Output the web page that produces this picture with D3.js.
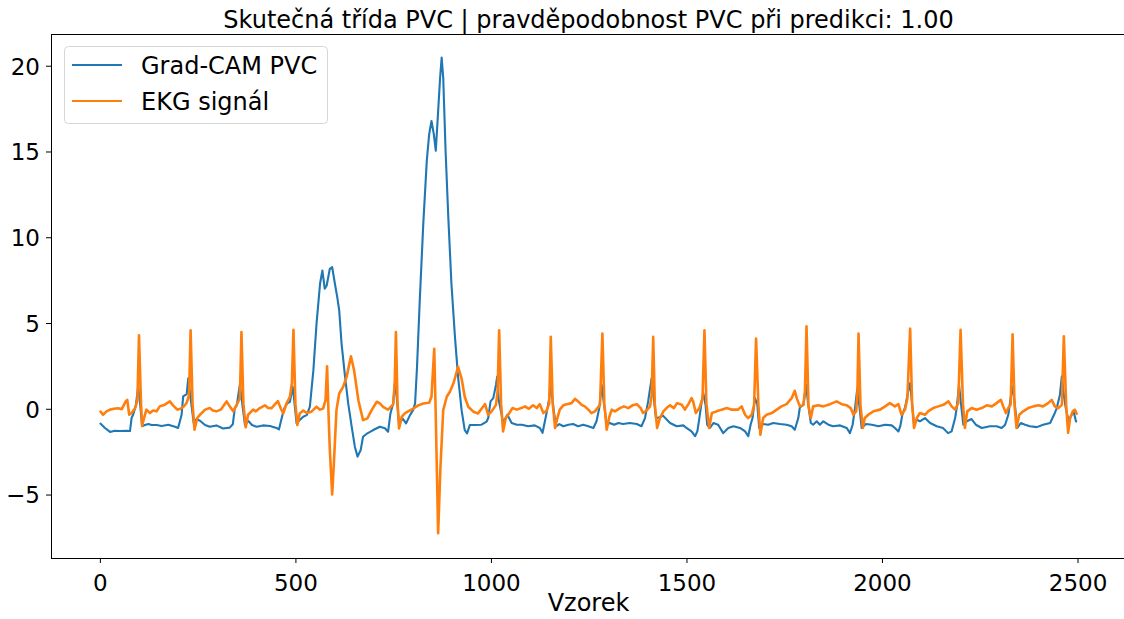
<!DOCTYPE html>
<html>
<head>
<meta charset="utf-8">
<script src="https://cdn.jsdelivr.net/npm/d3@7"></script>
<style>
  body { margin: 0; background: #fff; }
  svg { display: block; font-family: "DejaVu Sans", sans-serif; }
</style>
</head>
<body>
<div class="chart"></div>
<script>
// values: [sample, value]
var gradcam = [[0,-0.83],[13,-1.12],[26,-1.35],[38,-1.28],[51,-1.3],[68,-1.28],[77,-1.3],[81,-0.54],[85,-0.35],[92,0.2],[98,1.3],[102,0.5],[108,-1.02],[115,-0.95],[124,-0.89],[132,-0.95],[145,-0.95],[158,-1.0],[175,-0.93],[192,-1.05],[200,-1.12],[209,-0.35],[213,0.72],[222,0.85],[226,1.78],[231,0.8],[240,-0.83],[247,-0.6],[256,-0.7],[269,-0.95],[281,-1.05],[298,-0.97],[315,-1.15],[332,-1.1],[340,-0.9],[345,0.04],[350,0.2],[358,1.4],[363,0.5],[371,-0.95],[379,-0.7],[389,-0.95],[401,-1.05],[417,-0.97],[435,-1.0],[452,-1.12],[458,-1.2],[465,-0.54],[471,0.0],[479,0.31],[486,0.4],[493,1.28],[496,0.7],[503,-0.85],[511,-0.66],[520,-0.46],[529,-0.37],[537,0.12],[546,2.25],[554,4.96],[563,7.29],[569,8.06],[575,7.0],[580,7.19],[588,8.16],[594,8.26],[601,7.29],[607,6.51],[612,5.74],[618,3.8],[627,1.86],[635,0.31],[644,-1.05],[652,-2.21],[659,-2.79],[667,-2.4],[673,-1.63],[684,-1.43],[699,-1.24],[716,-1.05],[729,-1.14],[737,-1.34],[743,-0.27],[750,0.31],[754,1.47],[759,0.7],[765,-0.95],[774,-0.56],[783,-0.85],[793,-0.37],[801,-0.08],[806,0.31],[811,2.44],[818,6.32],[827,10.78],[836,14.47],[842,16.0],[848,16.78],[854,16.0],[859,15.04],[864,16.97],[870,19.3],[874,20.47],[878,19.3],[884,15.04],[891,11.16],[899,7.29],[908,4.19],[916,1.86],[925,-0.08],[933,-1.24],[939,-1.43],[946,-0.95],[959,-0.95],[976,-0.93],[989,-0.75],[993,-0.54],[999,0.43],[1006,0.62],[1013,1.4],[1016,1.88],[1020,0.5],[1027,-0.3],[1031,-0.83],[1042,-0.35],[1053,-0.83],[1066,-0.93],[1079,-0.93],[1095,-1.02],[1112,-0.97],[1125,-1.12],[1132,-1.4],[1138,-0.73],[1144,-0.05],[1149,0.62],[1153,1.4],[1159,0.2],[1166,-1.02],[1175,-0.89],[1185,-1.02],[1198,-0.93],[1210,-0.89],[1223,-1.02],[1236,-0.93],[1249,-1.02],[1262,-1.12],[1270,-0.73],[1277,0.04],[1283,1.4],[1289,0.3],[1296,-0.93],[1304,-0.83],[1315,-0.93],[1326,-0.83],[1338,-0.89],[1355,-0.83],[1373,-0.89],[1385,-1.02],[1394,-0.54],[1402,0.43],[1411,1.78],[1417,0.5],[1422,-0.54],[1432,-0.5],[1440,-0.4],[1458,-0.83],[1475,-1.02],[1492,-0.97],[1500,-1.12],[1513,-1.32],[1522,-1.6],[1528,-1.3],[1533,-0.54],[1539,0.43],[1543,0.92],[1549,0.2],[1553,-0.93],[1560,-1.12],[1569,-0.83],[1581,-0.93],[1594,-1.42],[1607,-1.12],[1620,-1.02],[1637,-1.12],[1650,-1.32],[1658,-1.6],[1664,-0.93],[1669,-0.54],[1675,0.62],[1681,0.3],[1686,-1.12],[1696,-0.89],[1709,-0.93],[1722,-0.83],[1739,-0.89],[1756,-0.93],[1769,-1.02],[1777,-1.22],[1786,-0.54],[1790,0.08],[1799,0.23],[1806,1.4],[1811,0.3],[1818,-0.83],[1824,-0.93],[1833,-0.73],[1841,-0.93],[1850,-0.73],[1863,-0.93],[1875,-1.02],[1893,-0.97],[1910,-1.12],[1918,-1.42],[1925,-0.93],[1931,0.04],[1937,1.2],[1942,0.2],[1948,-1.12],[1959,-0.89],[1974,-0.93],[1991,-1.02],[2008,-0.93],[2025,-0.97],[2033,-1.12],[2042,-1.32],[2047,-1.0],[2052,-0.35],[2059,0.08],[2067,1.0],[2072,1.5],[2077,0.3],[2082,-0.93],[2089,-0.64],[2097,-0.73],[2110,-0.54],[2123,-0.83],[2140,-1.02],[2156,-1.12],[2169,-1.42],[2178,-1.32],[2187,-0.54],[2191,0.04],[2197,1.4],[2202,0.3],[2208,-0.93],[2217,-0.73],[2229,-0.6],[2240,-0.93],[2255,-1.12],[2276,-1.02],[2293,-1.02],[2306,-1.12],[2315,-0.93],[2323,-0.35],[2329,0.62],[2334,1.3],[2340,0.2],[2346,-1.12],[2355,-0.83],[2366,-0.93],[2378,-1.02],[2396,-1.07],[2412,-0.93],[2430,-0.83],[2440,-0.35],[2447,0.04],[2455,0.82],[2460,1.9],[2465,0.8],[2470,0.04],[2476,-0.6],[2481,-0.54],[2490,-0.15],[2496,-0.73],[2499,-0.75]];

var ekg = [[0,-0.11],[8,-0.35],[17,-0.15],[26,-0.05],[36,0.0],[46,0.03],[56,-0.02],[66,0.43],[70,0.52],[75,-0.35],[81,-0.25],[90,0.03],[96,0.5],[100,4.28],[105,0.4],[108,-1.0],[113,-0.54],[119,-0.05],[128,-0.25],[136,-0.1],[145,-0.15],[153,0.14],[166,0.24],[179,0.43],[187,0.2],[198,-0.05],[206,0.0],[215,0.15],[222,0.35],[228,0.8],[232,4.57],[237,0.3],[242,-1.22],[249,-0.54],[256,-0.35],[269,-0.05],[281,0.04],[289,-0.1],[298,-0.15],[309,-0.05],[324,0.43],[332,0.14],[341,-0.15],[350,0.24],[358,0.6],[362,4.48],[367,0.3],[373,-1.08],[379,-0.35],[392,-0.05],[399,-0.15],[409,0.04],[422,0.2],[430,0.05],[439,0.04],[455,0.45],[463,0.0],[469,-0.27],[477,0.3],[486,0.7],[491,1.5],[495,4.61],[500,0.3],[505,-0.95],[511,-0.27],[520,-0.1],[529,-0.25],[541,-0.17],[554,0.12],[563,-0.05],[571,0.02],[577,0.5],[581,2.47],[585,-0.5],[588,-2.4],[594,-4.99],[598,-3.35],[605,-0.08],[612,0.89],[622,1.28],[631,1.86],[642,3.06],[650,2.25],[661,0.5],[673,-0.66],[684,-0.56],[695,-0.08],[708,0.41],[716,0.31],[725,0.1],[737,-0.05],[750,0.25],[754,1.5],[757,4.48],[761,0.5],[765,-1.14],[772,-0.46],[780,-0.27],[788,-0.15],[801,0.0],[814,0.2],[827,0.31],[842,0.35],[848,0.7],[855,3.5],[859,-0.5],[865,-7.25],[871,-3.35],[878,-0.08],[887,0.7],[895,0.99],[904,1.47],[916,2.44],[925,1.76],[933,0.7],[942,0.12],[955,-0.17],[967,-0.27],[976,0.0],[985,0.27],[993,-0.35],[1002,-0.15],[1013,0.23],[1017,1.0],[1021,4.57],[1026,0.3],[1031,-1.32],[1038,-0.54],[1047,-0.25],[1055,0.04],[1066,-0.05],[1078,0.04],[1087,0.14],[1097,0.0],[1108,0.2],[1117,0.04],[1125,0.27],[1134,-0.25],[1142,-0.12],[1149,0.3],[1153,4.19],[1158,0.3],[1164,-1.12],[1170,-0.54],[1176,-0.05],[1185,0.2],[1194,0.27],[1206,0.33],[1215,0.58],[1223,0.43],[1232,0.23],[1240,0.14],[1249,-0.05],[1257,-0.25],[1266,-0.15],[1279,0.23],[1285,4.38],[1290,0.3],[1296,-1.22],[1303,-0.45],[1309,-0.05],[1317,-0.15],[1330,0.04],[1340,0.14],[1351,0.04],[1362,0.2],[1373,0.27],[1383,0.04],[1389,-0.25],[1398,-0.1],[1407,0.14],[1411,0.8],[1415,4.19],[1419,0.3],[1425,-1.12],[1432,-0.54],[1441,-0.15],[1449,0.04],[1458,0.2],[1468,0.04],[1476,0.33],[1488,0.23],[1496,-0.05],[1505,0.27],[1513,0.62],[1517,0.43],[1524,-0.25],[1533,0.04],[1541,0.6],[1546,4.57],[1551,0.3],[1558,-1.12],[1565,-0.25],[1577,-0.15],[1590,-0.05],[1603,0.04],[1616,-0.05],[1632,-0.05],[1641,0.14],[1650,-0.35],[1658,-0.54],[1667,-0.35],[1673,0.23],[1678,4.09],[1684,0.2],[1689,-1.51],[1696,-0.54],[1705,-0.35],[1718,-0.25],[1731,-0.05],[1743,0.14],[1756,0.27],[1769,0.62],[1777,1.05],[1782,0.62],[1790,0.14],[1799,0.23],[1803,1.0],[1807,4.81],[1812,0.2],[1818,-0.54],[1824,0.14],[1837,0.2],[1850,0.14],[1867,0.27],[1884,0.43],[1897,0.27],[1910,0.2],[1920,0.04],[1927,-0.35],[1934,-0.15],[1937,0.8],[1940,4.38],[1945,0.2],[1951,-1.12],[1956,-0.54],[1965,-0.35],[1978,-0.15],[1995,-0.05],[2008,0.14],[2020,0.33],[2033,0.14],[2042,0.27],[2050,-0.35],[2059,-0.05],[2065,0.62],[2072,4.67],[2077,0.3],[2082,-1.12],[2089,-0.54],[2097,-0.25],[2110,-0.35],[2118,-0.15],[2131,0.04],[2144,0.14],[2157,0.23],[2170,0.43],[2178,0.14],[2187,-0.05],[2195,0.33],[2201,4.6],[2207,0.3],[2212,-1.12],[2218,-0.15],[2229,0.04],[2242,-0.05],[2255,0.04],[2268,0.2],[2281,0.14],[2293,0.33],[2304,0.52],[2310,0.14],[2317,-0.25],[2323,0.04],[2329,0.23],[2334,4.34],[2339,0.2],[2344,-1.12],[2351,-0.35],[2361,-0.15],[2374,0.04],[2387,0.14],[2400,0.2],[2412,0.14],[2425,0.33],[2434,0.52],[2442,0.14],[2451,0.04],[2460,0.23],[2465,4.23],[2471,0.2],[2476,-1.4],[2481,-0.54],[2488,-0.15],[2493,-0.05],[2499,-0.35]];

var seriesNames = ['Grad-CAM PVC', 'EKG signál'];
var seriesColors = ['#1f77b4', '#ff7f0e'];
var xTicks = [0, 500, 1000, 1500, 2000, 2500];
var yTicks = [-5, 0, 5, 10, 15, 20];
var title = 'Skutečná třída PVC | pravděpodobnost PVC při predikci: 1.00';
var xLabel = 'Vzorek';

var width = 1124,
  height = 619,
  plot = { left: 51, right: 1126, top: 34, bottom: 558 };

var svg = d3.select('.chart')
  .append('svg')
  .attr('width', width)
  .attr('height', height);

var x = d3.scaleLinear()
  .domain([-125, 2624])
  .range([plot.left, plot.right]);

var y = d3.scaleLinear()
  .domain([-8.7, 21.85])
  .range([plot.bottom, plot.top]);

svg.append('defs')
  .append('clipPath')
  .attr('id', 'clip')
  .append('rect')
  .attr('x', plot.left)
  .attr('y', plot.top)
  .attr('width', plot.right - plot.left)
  .attr('height', plot.bottom - plot.top);

var line = d3.line()
  .x(function (d) { return x(d[0]); })
  .y(function (d) { return y(d[1]); });

var lines = svg.append('g').attr('clip-path', 'url(#clip)');

[gradcam, ekg].forEach(function (series, i) {
  lines.append('path')
    .datum(series)
    .attr('fill', 'none')
    .attr('stroke', seriesColors[i])
    .attr('stroke-width', i === 1 ? 2.6 : 2.1)
    .attr('stroke-linejoin', 'round')
    .attr('d', line);
});

// axes, matplotlib look
var xAxis = svg.append('g')
  .attr('transform', 'translate(0,' + plot.bottom + ')')
  .call(d3.axisBottom(x).tickValues(xTicks).tickSize(5).tickPadding(6).tickFormat(d3.format('d')));

var yAxis = svg.append('g')
  .attr('transform', 'translate(' + plot.left + ',0)')
  .call(d3.axisLeft(y).tickValues(yTicks).tickSize(5).tickPadding(6)
    .tickFormat(function (d) { return d < 0 ? '\u2212' + Math.abs(d) : d; }));

[xAxis, yAxis].forEach(function (g) {
  g.select('.domain').remove();
  g.selectAll('.tick line').attr('stroke', '#000').attr('stroke-width', 1);
  g.selectAll('.tick text')
    .attr('fill', '#000')
    .style('font-family', '"DejaVu Sans", sans-serif')
    .style('font-size', '23px');
});
xAxis.selectAll('.tick text').attr('dy', '0.95em');
yAxis.selectAll('.tick text').attr('dy', '0.36em');

// spines (right one falls outside the picture)
svg.append('line')
  .attr('x1', plot.left).attr('x2', plot.right)
  .attr('y1', plot.top + 0.5).attr('y2', plot.top + 0.5)
  .attr('stroke', '#000').attr('stroke-width', 1);
svg.append('line')
  .attr('x1', plot.left).attr('x2', plot.right)
  .attr('y1', plot.bottom + 0.5).attr('y2', plot.bottom + 0.5)
  .attr('stroke', '#000').attr('stroke-width', 1);
svg.append('line')
  .attr('x1', plot.left + 0.5).attr('x2', plot.left + 0.5)
  .attr('y1', plot.top).attr('y2', plot.bottom + 1)
  .attr('stroke', '#000').attr('stroke-width', 1);

svg.append('text')
  .attr('x', (plot.left + plot.right) / 2)
  .attr('y', 28)
  .attr('text-anchor', 'middle')
  .style('font-size', '24px')
  .text(title);

svg.append('text')
  .attr('x', (plot.left + plot.right) / 2)
  .attr('y', 611)
  .attr('text-anchor', 'middle')
  .style('font-size', '24px')
  .text(xLabel);

// legend
var legend = svg.append('g');
legend.append('rect')
  .attr('x', 64.5).attr('y', 46.5)
  .attr('width', 263).attr('height', 77)
  .attr('rx', 4)
  .attr('fill', '#fff').attr('fill-opacity', 0.8)
  .attr('stroke', '#d6d6d6').attr('stroke-width', 1);

seriesNames.forEach(function (name, i) {
  var ly = 65 + i * 36;
  legend.append('line')
    .attr('x1', 72).attr('x2', 122)
    .attr('y1', ly).attr('y2', ly)
    .attr('stroke', seriesColors[i])
    .attr('stroke-width', 2.1);
  legend.append('text')
    .attr('x', 141)
    .attr('y', ly + 9)
    .style('font-size', '24px')
    .text(name);
});
</script>
</body>
</html>
